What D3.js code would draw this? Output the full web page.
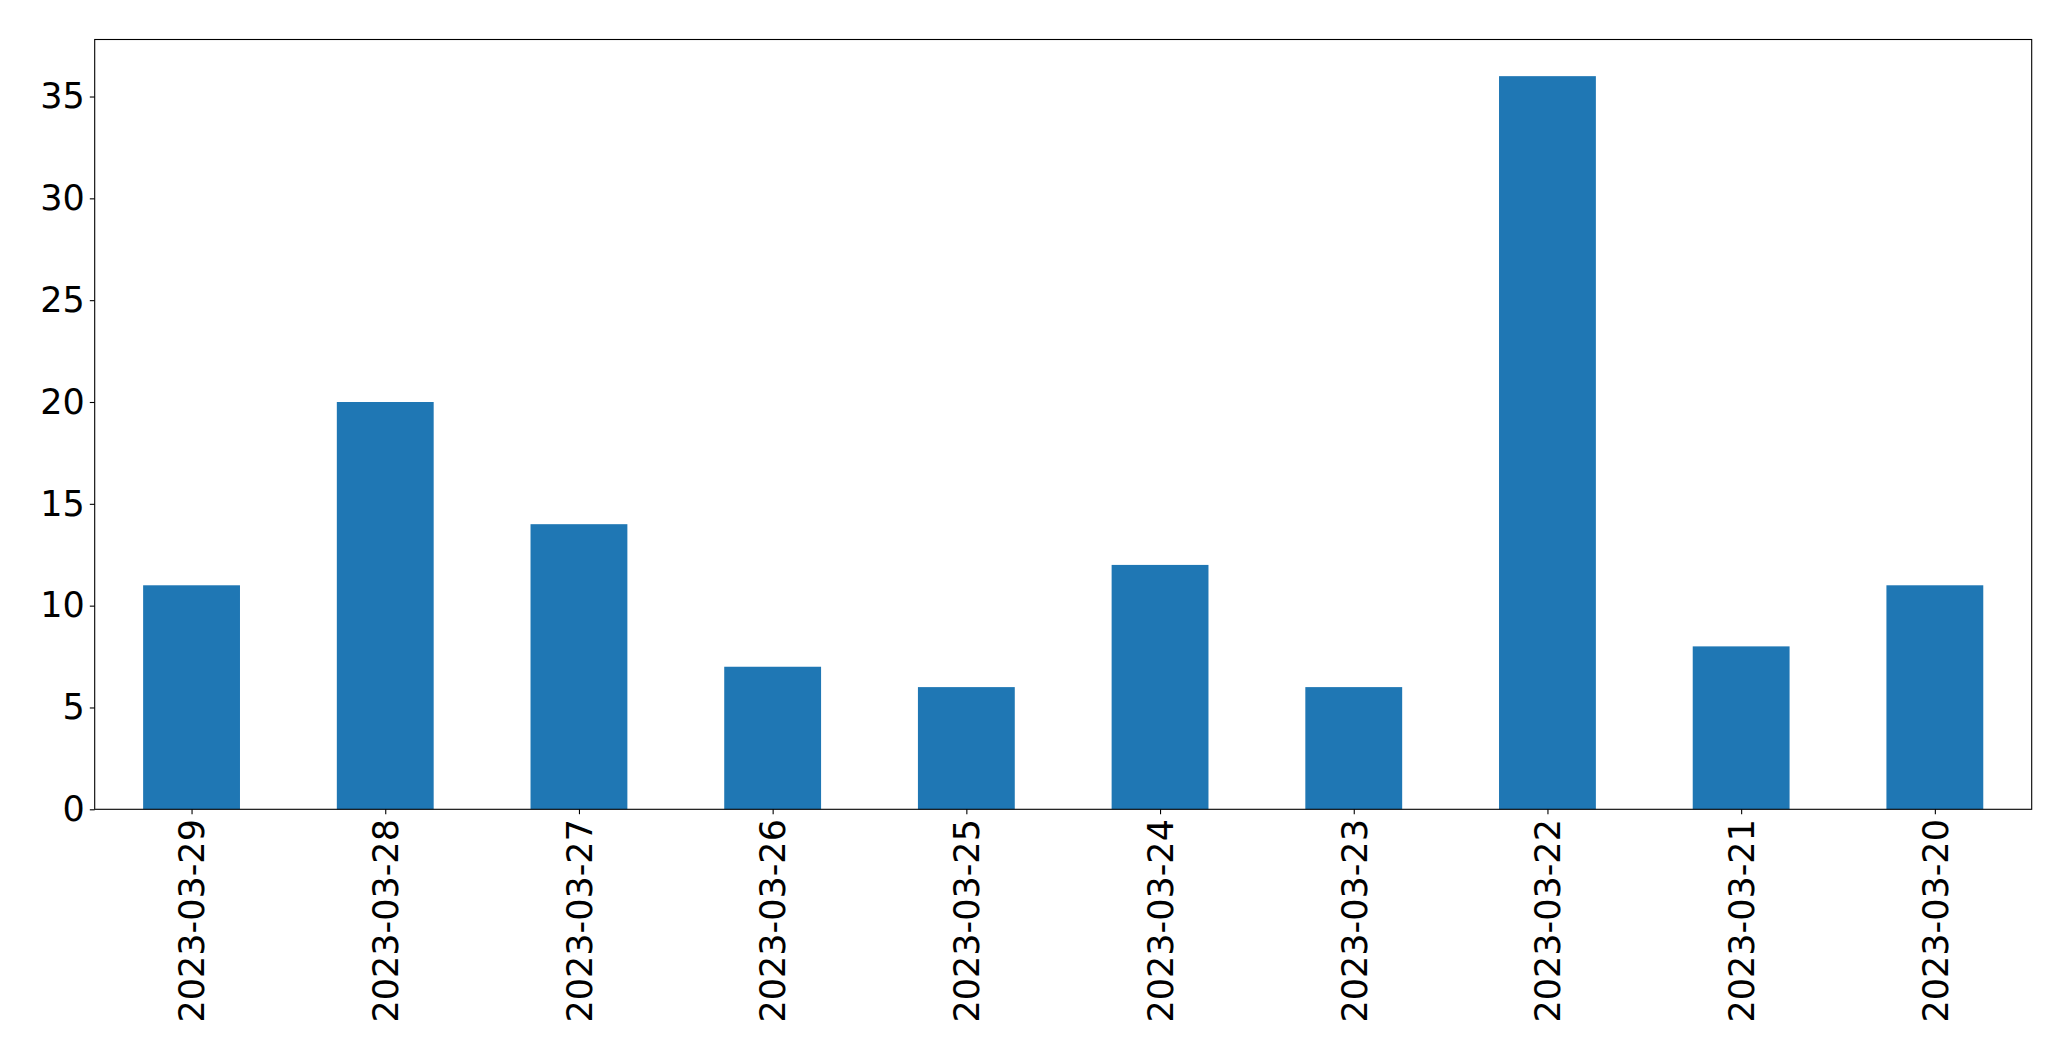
<!DOCTYPE html>
<html><head><meta charset="utf-8">
<script src="https://cdn.jsdelivr.net/npm/d3@7"></script>
<style>body{margin:0;background:#fff}svg{display:block}text{font-family:"DejaVu Sans",sans-serif}</style>
</head><body>
<svg id="c" width="2071" height="1061"></svg>
<script>
const categories = ["2023-03-29","2023-03-28","2023-03-27","2023-03-26","2023-03-25","2023-03-24","2023-03-23","2023-03-22","2023-03-21","2023-03-20"];
const values = [11, 20, 14, 7, 6, 12, 6, 36, 8, 11];
const yTicks = [0, 5, 10, 15, 20, 25, 30, 35];

const L = 94.7, R = 2031.7, T = 39.5, B = 809.3;
const svg = d3.select("#c");
const x = d3.scaleLinear().domain([-0.5, categories.length - 0.5]).range([L, R]);
const y = d3.scaleLinear().domain([0, d3.max(values) * 1.05]).range([B, T]);

svg.append("g").selectAll("rect").data(values).join("rect")
  .attr("x", (d, i) => x(i - 0.25)).attr("width", (d, i) => x(i + 0.25) - x(i - 0.25))
  .attr("y", d => y(d)).attr("height", d => y(0) - y(d))
  .attr("fill", "#1f77b4");

const fs = "35px";
const yAxis = svg.append("g").attr("transform", `translate(${L},0)`)
  .call(d3.axisLeft(y).tickValues(yTicks).tickSize(4.9).tickPadding(4.9).tickFormat(d3.format("d")));
yAxis.select(".domain").remove();
yAxis.selectAll("line").attr("stroke", "#000").attr("stroke-width", 1.1);
yAxis.selectAll("text").attr("font-size", fs).attr("fill", "#000").attr("font-family", "DejaVu Sans");

const xAxis = svg.append("g").attr("transform", `translate(0,${B})`)
  .call(d3.axisBottom(x).tickValues(d3.range(categories.length)).tickSize(4.9).tickPadding(0).tickFormat(i => categories[i]));
xAxis.select(".domain").remove();
xAxis.selectAll("line").attr("stroke", "#000").attr("stroke-width", 1.1);
xAxis.selectAll("text").attr("font-size", fs).attr("fill", "#000").attr("font-family", "DejaVu Sans")
  .attr("transform", "rotate(-90)").attr("text-anchor", "end").attr("x", -9.8).attr("y", 0).attr("dy", "0.35em");

svg.append("rect").attr("x", L).attr("y", T).attr("width", R - L).attr("height", B - T)
  .attr("fill", "none").attr("stroke", "#000").attr("stroke-width", 1.1);
</script>
</body></html>
